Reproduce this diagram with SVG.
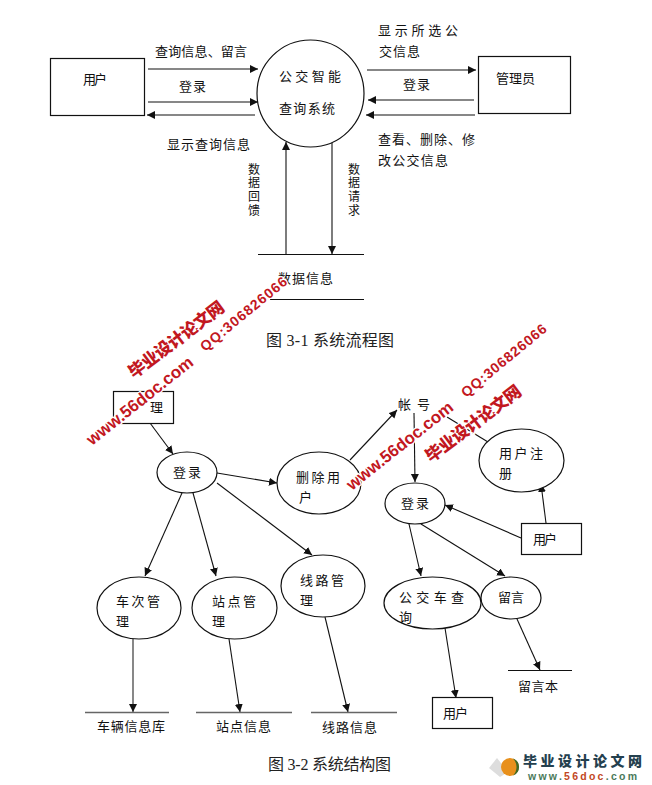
<svg xmlns="http://www.w3.org/2000/svg" width="652" height="785" viewBox="0 0 652 785">
<style>
text{font-family:"Noto Sans CJK SC","Liberation Sans",sans-serif;font-size:13px;fill:#111}
.cap{font-family:"Liberation Serif","Noto Sans CJK SC",serif;font-size:16px;fill:#222}
.v{font-size:12px;writing-mode:vertical-rl;letter-spacing:1.7px}
.n{fill:#fff;stroke:#111;stroke-width:1.2}
#connectors line{stroke:#111;stroke-width:1.1;marker-end:url(#a)}
#connectors line.p{marker-end:none}
#connectors line.g{stroke:#555;stroke-width:1.4}
.s{stroke:#111;stroke-width:1.2}
.sg{stroke:#666;stroke-width:1.5}
.wm,.wc{fill:#c2181f;stroke:#fff;stroke-width:2.5px;paint-order:stroke;font-weight:bold}
.wm{font-family:"Liberation Sans",sans-serif}
.wc{font-family:"Noto Sans CJK SC",sans-serif;font-weight:900}
</style>
<defs>
<marker id="a" markerUnits="userSpaceOnUse" markerWidth="9" markerHeight="9" refX="8" refY="4" orient="auto"><path d="M0 0L8 4L0 8Z" fill="#111"/></marker>
</defs>
<rect width="652" height="785" fill="#fff"/>

<g id="connectors">
<line x1="148" y1="69" x2="258" y2="69"/>
<line x1="148" y1="102" x2="258" y2="102"/>
<line x1="255" y1="115" x2="147" y2="115"/>
<line x1="367" y1="70" x2="476" y2="70"/>
<line x1="474" y1="100" x2="368" y2="100"/>
<line x1="475" y1="115" x2="366" y2="115"/>
<line x1="286" y1="254" x2="286" y2="142"/>
<line x1="332" y1="143" x2="332" y2="254"/>
<line x1="150" y1="423" x2="173" y2="454"/>
<line x1="217" y1="473" x2="277" y2="483"/>
<line x1="182" y1="493" x2="145" y2="576"/>
<line x1="193" y1="493" x2="216" y2="576"/>
<line x1="217" y1="483" x2="312" y2="555"/>
<line class="g" x1="133" y1="639" x2="133" y2="712"/>
<line x1="229" y1="639" x2="240" y2="712"/>
<line x1="325" y1="617" x2="348" y2="712"/>
<line x1="350" y1="460" x2="397" y2="410"/>
<line x1="414" y1="413" x2="415" y2="482"/>
<line class="p" x1="447" y1="417" x2="488" y2="442"/>
<line x1="521" y1="538" x2="445" y2="505"/>
<line x1="546" y1="523" x2="541" y2="484"/>
<line x1="409" y1="524" x2="421" y2="576"/>
<line x1="421" y1="524" x2="505" y2="576"/>
<line x1="445" y1="628" x2="456" y2="698"/>
<line x1="517" y1="619" x2="540" y2="670"/>
</g>

<g id="user1"><rect class="n" x="50.5" y="58.5" width="94" height="57"/><text x="83" y="84" textLength="24">用户</text></g>
<g id="admin1"><rect class="n" x="478.5" y="56.5" width="92" height="57"/><text x="496" y="83" textLength="39">管理员</text></g>
<g id="system"><ellipse class="n" cx="310.5" cy="93.5" rx="53.5" ry="53.5"/><text x="279" y="81" textLength="62">公交智能</text><text x="279" y="113" textLength="56">查询系统</text></g>
<g id="datastore"><line class="s" x1="258" y1="254.5" x2="364" y2="254.5"/><line class="s" x1="270" y1="299.5" x2="364" y2="299.5"/><text x="278" y="283" textLength="55">数据信息</text></g>
<g id="labels1">
<text x="155" y="56" textLength="92">查询信息、留言</text>
<text x="179" y="91" textLength="27">登录</text>
<text x="167" y="149" textLength="83">显示查询信息</text>
<text x="378" y="35" textLength="80">显示所选公</text>
<text x="379" y="56" textLength="41">交信息</text>
<text x="403" y="89" textLength="27">登录</text>
<text x="378" y="144" textLength="97">查看、删除、修</text>
<text x="378" y="165" textLength="70">改公交信息</text>
<text class="v" x="254" y="163">数据回馈</text>
<text class="v" x="354" y="163">数据请求</text>
</g>
<text class="cap" x="266" y="346" textLength="128">图 3-1  系统流程图</text>

<g id="admin2"><rect class="n" x="113.5" y="391.5" width="60" height="32"/><text x="150" y="412">理</text></g>
<g id="login1"><ellipse class="n" cx="187" cy="472.5" rx="30" ry="20.5"/><text x="173" y="477" textLength="28">登录</text></g>
<g id="deluser"><ellipse class="n" cx="319" cy="483" rx="42" ry="31"/><text x="296" y="482" textLength="44">删除用</text><text x="299" y="502">户</text></g>
<g id="bus"><ellipse class="n" cx="139" cy="608" rx="42" ry="31"/><text x="116" y="606" textLength="44">车次管</text><text x="116" y="626">理</text></g>
<g id="stop"><ellipse class="n" cx="234.5" cy="608" rx="42.5" ry="31"/><text x="212" y="606" textLength="44">站点管</text><text x="212" y="626">理</text></g>
<g id="route"><ellipse class="n" cx="323" cy="586" rx="42" ry="31"/><text x="300" y="585" textLength="44">线路管</text><text x="300" y="605">理</text></g>
<g id="s1"><line class="sg" x1="85" y1="712.5" x2="169" y2="712.5"/><text x="97" y="731" textLength="68">车辆信息库</text></g>
<g id="s2"><line class="sg" x1="196" y1="712.5" x2="292" y2="712.5"/><text x="216" y="731" textLength="55">站点信息</text></g>
<g id="s3"><line class="sg" x1="311" y1="712.5" x2="397" y2="712.5"/><text x="322" y="732" textLength="55">线路信息</text></g>
<text class="cap" x="268" y="770" textLength="123">图 3-2 系统结构图</text>

<g id="account"><text x="398" y="409" textLength="32">帐 号</text></g>
<g id="register"><ellipse class="n" cx="521.5" cy="460.5" rx="42.5" ry="31.5"/><text x="499" y="458" textLength="44">用户注</text><text x="499" y="478">册</text></g>
<g id="login2"><ellipse class="n" cx="415" cy="503.5" rx="30" ry="20.5"/><text x="401" y="508" textLength="28">登录</text></g>
<g id="user2"><rect class="n" x="521.5" y="523.5" width="60" height="31"/><text x="533" y="544" textLength="24">用户</text></g>
<g id="query"><ellipse class="n" cx="432.5" cy="603" rx="48.5" ry="26"/><text x="399" y="602" textLength="65">公交车查</text><text x="399" y="622">询</text></g>
<g id="msg"><ellipse class="n" cx="511" cy="598" rx="30" ry="21"/><text x="498" y="602" textLength="26">留言</text></g>
<g id="msgbook"><line class="s" x1="508" y1="670.5" x2="572" y2="670.5"/><text x="518" y="691" textLength="40">留言本</text></g>
<g id="user3"><rect class="n" x="432.5" y="697.5" width="60" height="31"/><text x="443" y="718" textLength="25">用户</text></g>

<g id="watermarks">
<text class="wc" style="font-size:17px" transform="translate(134 379) rotate(-37)" textLength="115">毕业设计论文网</text>
<text class="wm" style="font-size:17px" transform="translate(92 446) rotate(-38.5)" textLength="131">www.56doc.com</text>
<text class="wm" style="font-size:14px" transform="translate(205 352) rotate(-39.5)" textLength="108">QQ:306826066</text>
<text class="wc" style="font-size:17px" transform="translate(431 463) rotate(-37)" textLength="115">毕业设计论文网</text>
<text class="wm" style="font-size:17px" transform="translate(352 491) rotate(-38.5)" textLength="131">www.56doc.com</text>
<text class="wm" style="font-size:14px" transform="translate(466 398) rotate(-39.5)" textLength="106">QQ:306826066</text>
</g>

<g id="logo">
<path d="M489 768L497 758L508 772L500 777Z" fill="#ddd"/>
<circle cx="510" cy="767" r="9" fill="#e8901c"/>
<path d="M513 758.5A9 9 0 0 1 513 775.5A12 12 0 0 0 513 758.5Z" fill="#3d6a2a"/>
<text x="523" y="766" textLength="119" style="font-size:14px;font-weight:900;fill:#24404e">毕业设计论文网</text>
<text x="528" y="780" textLength="109" style="font-family:'Liberation Sans',sans-serif;font-size:10.5px;font-weight:bold;fill:#4a7a5a">www.<tspan fill="#c2481f">56doc</tspan>.com</text>
</g>
</svg>
